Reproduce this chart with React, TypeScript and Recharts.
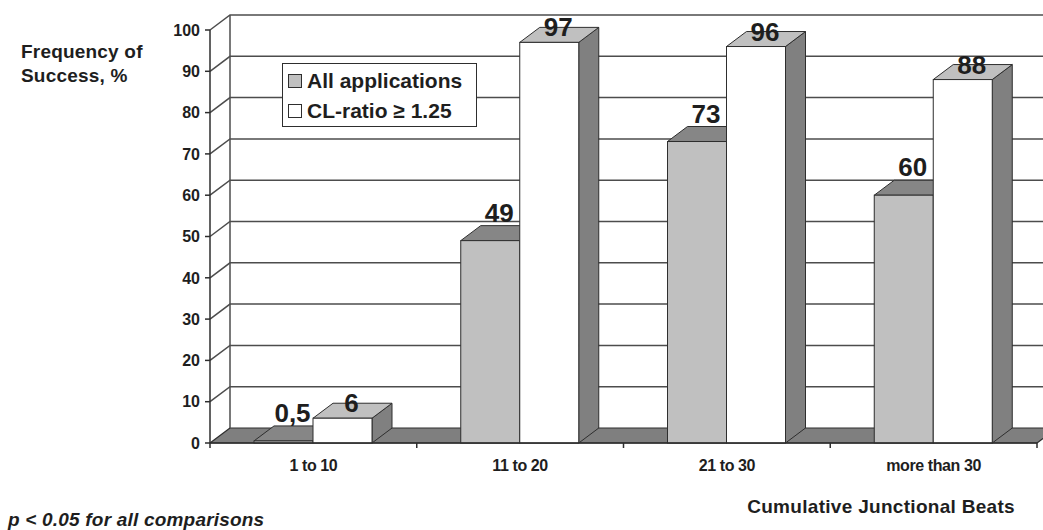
import { Bar, BarChart, CartesianGrid, LabelList, Legend, XAxis, YAxis } from 'recharts';

// junctional beat bins and success rates (%)
const categories = ['1 to 10', '11 to 20', '21 to 30', 'more than 30'];
const allApplications = [0.5, 49, 73, 60];
const clRatio = [6, 97, 96, 88];
const yTicks = [0, 10, 20, 30, 40, 50, 60, 70, 80, 90, 100];

const SERIES_ALL = 'All applications';
const SERIES_CL = 'CL-ratio \u2265 1.25';

const data = categories.map((name, i) => ({
  name,
  all: allApplications[i],
  cl: clRatio[i],
}));

const WIDTH = 1043;
const HEIGHT = 530;
const PLOT_LEFT = 210;
const PLOT_TOP = 30;
const PLOT_BOTTOM = 443;
const PLOT_RIGHT = 1037;
const BAND = (PLOT_RIGHT - PLOT_LEFT) / categories.length;

// depth of the pseudo-3D box (shift of the back plane)
const DX = 20;
const DY = 15;

const FONT = '"Liberation Sans", Arial, Helvetica, sans-serif';
const INK = '#1e1e1e';
const EDGE = '#2e2e2e';
const GRID = '#4d4d4d';
const FLOOR = '#7f7f7f';

const GRAY_FACES = { front: '#c0c0c0', top: '#868686', side: '#6c6c6c' };
const WHITE_FACES = { front: '#ffffff', top: '#c0c0c0', side: '#808080' };

type Faces = typeof GRAY_FACES;

// back wall gridlines, with the slanted segment on the side wall;
// the zero line becomes the floor
function wallLine(props: any) {
  const { x1, y1, x2, key } = props;
  const top = props.y ?? PLOT_TOP;
  const bottom = top + (props.height ?? PLOT_BOTTOM - PLOT_TOP);
  if (Math.abs(y1 - bottom) < 0.5) {
    return (
      <g key={key}>
        <polygon
          points={`${x1},${y1} ${x2},${y1} ${x2 + DX},${y1 - DY} ${x1 + DX},${y1 - DY}`}
          fill={FLOOR}
          stroke={EDGE}
          strokeWidth={1.2}
          strokeLinejoin="round"
        />
        <line x1={x1 + DX} y1={y1 - DY} x2={x1 + DX} y2={top - DY} stroke={GRID} strokeWidth={1.5} />
      </g>
    );
  }
  return (
    <polyline
      key={key}
      points={`${x1},${y1} ${x1 + DX},${y1 - DY} ${x2 + DX},${y1 - DY}`}
      fill="none"
      stroke={GRID}
      strokeWidth={1.5}
    />
  );
}

function Box3D(props: any & { faces: Faces }) {
  const { x, y, width, height, faces } = props;
  if (x == null || y == null || !width) return null;
  const r = x + width;
  const b = y + height;
  return (
    <g>
      <polygon
        points={`${r},${y} ${r + DX},${y - DY} ${r + DX},${b - DY} ${r},${b}`}
        fill={faces.side}
        stroke={EDGE}
        strokeWidth={1}
        strokeLinejoin="round"
      />
      <polygon
        points={`${x},${y} ${r},${y} ${r + DX},${y - DY} ${x + DX},${y - DY}`}
        fill={faces.top}
        stroke={EDGE}
        strokeWidth={1}
        strokeLinejoin="round"
      />
      <rect x={x} y={y} width={width} height={height} fill={faces.front} stroke={EDGE} strokeWidth={1} />
    </g>
  );
}

const formatValue = (v: number) => String(v).replace('.', ',');

function valueLabel(lift: number) {
  return (props: any) => {
    const { x, y, width, value, index } = props;
    return (
      <text
        key={`lbl-${index}`}
        x={x + width / 2 + 9}
        y={y - DY + lift}
        textAnchor="middle"
        fontFamily={FONT}
        fontWeight="bold"
        fontSize={26}
        fill={INK}
      >
        {formatValue(value)}
      </text>
    );
  };
}

function YTick(props: any) {
  const { y, payload } = props;
  return (
    <text
      x={PLOT_LEFT - 10}
      y={y}
      dy="0.36em"
      textAnchor="end"
      fontFamily={FONT}
      fontWeight="bold"
      fontSize={16}
      fill={INK}
    >
      {payload.value}
    </text>
  );
}

function XTick(props: any) {
  const { x, payload } = props;
  const half = payload.offset ?? BAND / 2;
  return (
    <g>
      {payload.index === 0 && (
        <line x1={x - half} y1={PLOT_BOTTOM} x2={x - half} y2={PLOT_BOTTOM + 5} stroke={EDGE} strokeWidth={1.5} />
      )}
      <line x1={x + half} y1={PLOT_BOTTOM} x2={x + half} y2={PLOT_BOTTOM + 5} stroke={EDGE} strokeWidth={1.5} />
      <text
        x={x}
        y={PLOT_BOTTOM + 28}
        textAnchor="middle"
        fontFamily={FONT}
        fontWeight="bold"
        fontSize={16}
        letterSpacing={-0.4}
        fill={INK}
      >
        {payload.value}
      </text>
    </g>
  );
}

function yTitle() {
  return (
    <text fontFamily={FONT} fontWeight="bold" fontSize={19} letterSpacing={0.2} fill={INK}>
      <tspan x={21} y={58}>Frequency of</tspan>
      <tspan x={21} y={82}>Success, %</tspan>
    </text>
  );
}

function xTitle() {
  return (
    <g>
      <text
        x={1015}
        y={513}
        textAnchor="end"
        fontFamily={FONT}
        fontWeight="bold"
        fontSize={19}
        letterSpacing={0.3}
        fill={INK}
      >
        Cumulative Junctional Beats
      </text>
      <text
        x={8}
        y={526}
        fontFamily={FONT}
        fontWeight="bold"
        fontStyle="italic"
        fontSize={19}
        letterSpacing={0.2}
        fill={INK}
      >
        p &lt; 0.05 for all comparisons
      </text>
    </g>
  );
}

function LegendBox() {
  const rows = [
    { label: SERIES_ALL, fill: GRAY_FACES.front },
    { label: SERIES_CL, fill: WHITE_FACES.front },
  ];
  return (
    <div
      style={{
        width: 195,
        height: 64,
        boxSizing: 'border-box',
        border: `1.5px solid ${EDGE}`,
        background: '#fff',
        paddingTop: 2,
      }}
    >
      {rows.map((row) => (
        <div
          key={row.label}
          style={{
            display: 'flex',
            alignItems: 'center',
            height: 30,
            fontFamily: FONT,
            fontWeight: 'bold',
            fontSize: 21,
            color: INK,
            whiteSpace: 'nowrap',
          }}
        >
          <span
            style={{
              display: 'inline-block',
              width: 12,
              height: 12,
              marginLeft: 5,
              marginRight: 5,
              background: row.fill,
              border: `1.5px solid ${EDGE}`,
            }}
          />
          <span>{row.label}</span>
        </div>
      ))}
    </div>
  );
}

export default function App() {
  return (
    <div style={{ position: 'absolute', left: 0, top: 0, width: WIDTH, height: HEIGHT, background: '#fff' }}>
      <BarChart
        width={WIDTH}
        height={HEIGHT}
        data={data}
        margin={{ top: PLOT_TOP, right: WIDTH - PLOT_RIGHT, bottom: 0, left: 0 }}
        barGap={0}
        barCategoryGap={44}
      >
        <CartesianGrid horizontal={wallLine} vertical={false} />
        <XAxis
          dataKey="name"
          height={HEIGHT - PLOT_BOTTOM}
          axisLine={{ stroke: EDGE, strokeWidth: 1.5 }}
          tickLine={false}
          tick={XTick}
          interval={0}
          label={xTitle}
        />
        <YAxis
          width={PLOT_LEFT}
          domain={[0, 100]}
          ticks={yTicks}
          interval={0}
          axisLine={{ stroke: EDGE, strokeWidth: 1.5 }}
          tickLine={{ stroke: EDGE, strokeWidth: 1.5 }}
          tickSize={5}
          tick={YTick}
          label={yTitle}
        />
        <Legend
          layout="vertical"
          align="center"
          verticalAlign="middle"
          wrapperStyle={{ left: 282, top: 63, width: 'auto' }}
          content={() => <LegendBox />}
        />
        <Bar
          dataKey="all"
          name={SERIES_ALL}
          fill={GRAY_FACES.front}
          isAnimationActive={false}
          shape={(p: any) => <Box3D {...p} faces={GRAY_FACES} />}
        >
          <LabelList dataKey="all" content={valueLabel(-4)} />
        </Bar>
        <Bar
          dataKey="cl"
          name={SERIES_CL}
          fill={WHITE_FACES.front}
          isAnimationActive={false}
          shape={(p: any) => <Box3D {...p} faces={WHITE_FACES} />}
        >
          <LabelList dataKey="cl" content={valueLabel(9)} />
        </Bar>
      </BarChart>
    </div>
  );
}
